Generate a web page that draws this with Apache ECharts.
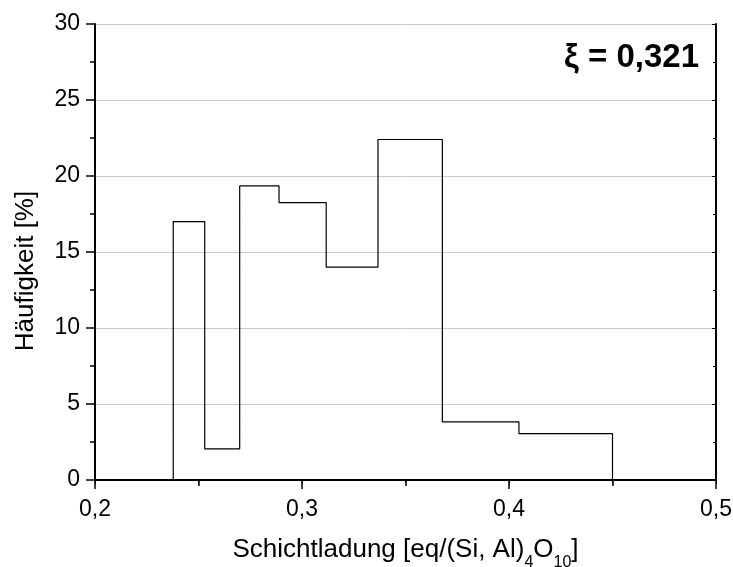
<!DOCTYPE html>
<html>
	<head>
		<meta charset="UTF-8">
		<title>Schichtladung</title>
		<style>
			html, body { margin: 0; padding: 0; background: #fff; }
			#main { width: 733px; height: 567px; }
		</style>
	</head>
	<body>
		<div id="main"></div>
		<script type="text/javascript" src="https://cdn.jsdelivr.net/npm/echarts@6/dist/echarts.min.js"></script>
		<script>
			// Klassengrenzen und Häufigkeiten
			var binEdges = [0.2198, 0.2378, 0.2530, 0.2699, 0.2889, 0.3117, 0.3367, 0.3678, 0.4048, 0.45];
			var frequency = [0, 17.0, 2.05, 19.35, 18.25, 14.0, 22.4, 3.82, 3.05];
			var xiText = 'ξ = 0,321';

			var chart = echarts.init(document.getElementById('main'));

			// Treppenlinie: jeder Punkt = linke Kante + Wert, letzter Punkt fällt auf 0
			var stepData = [];
			for (var i = 0; i < binEdges.length; i++) {
				stepData.push([binEdges[i], i < frequency.length ? frequency[i] : 0]);
			}

			var font = 'Liberation Sans, Arial, sans-serif';
			var comma = function (v) { return v.toFixed(1).replace('.', ','); };

			var option = {
				animation: false,
				grid: { left: 95, right: 17, top: 24, bottom: 87, outerBoundsMode: 'none' },
				xAxis: [{
					type: 'value', min: 0.2, max: 0.5, interval: 0.1,
					name: 'Schichtladung [eq/(Si, Al){sub|4}O{sub|10}]',
					nameLocation: 'middle', nameGap: 49,
					nameTextStyle: {
						fontFamily: font, fontSize: 26, color: '#000',
						rich: { sub: { fontFamily: font, fontSize: 16, color: '#000', padding: [26, 0, 0, 0] } }
					},
					axisLine: { lineStyle: { color: '#000', width: 2 } },
					axisTick: { length: 9, lineStyle: { color: '#000', width: 1.5 } },
					minorTick: { show: true, splitNumber: 2, length: 6, lineStyle: { color: '#000', width: 1.5 } },
					axisLabel: { margin: 18, fontFamily: font, fontSize: 23, color: '#000', formatter: comma },
					splitLine: { show: false }
				}, {
					type: 'value', position: 'top', min: 0.2, max: 0.5, interval: 0.1,
					axisLine: { lineStyle: { color: '#000', width: 2 } },
					axisTick: { inside: true, length: 4, lineStyle: { color: '#000' } },
					minorTick: { show: true, splitNumber: 2, length: 3, lineStyle: { color: '#000' } },
					axisLabel: { show: false },
					splitLine: { show: false }
				}],
				yAxis: [{
					type: 'value', min: 0, max: 30, interval: 5,
					axisLine: { show: true, lineStyle: { color: '#000', width: 2 } },
					axisTick: { show: true, length: 9, lineStyle: { color: '#000', width: 1.5 } },
					minorTick: { show: true, splitNumber: 2, length: 5, lineStyle: { color: '#000', width: 1.5 } },
					axisLabel: { margin: 15, fontFamily: font, fontSize: 23, color: '#000' },
					splitLine: { show: true, lineStyle: { color: '#c8c8c8', width: 1 } }
				}, {
					type: 'value', position: 'right', min: 0, max: 30, interval: 5,
					axisLine: { show: true, lineStyle: { color: '#000', width: 2 } },
					axisTick: { show: true, inside: true, length: 4, lineStyle: { color: '#000' } },
					minorTick: { show: true, splitNumber: 2, length: 3, lineStyle: { color: '#000' } },
					axisLabel: { show: false },
					splitLine: { show: false }
				}],
				graphic: [{
					type: 'text', x: 26, y: 271, rotation: Math.PI / 2,
					style: {
						text: 'Häufigkeit [%]', fill: '#000',
						font: '26px ' + font, textAlign: 'center', textVerticalAlign: 'middle'
					}
				}, {
					type: 'text', x: 699, y: 58,
					style: {
						text: xiText, fill: '#000',
						font: 'bold 33px ' + font, textAlign: 'right', textVerticalAlign: 'middle'
					}
				}],
				series: [{
					type: 'line',
					step: 'end',
					showSymbol: false,
					data: stepData,
					lineStyle: { color: '#000', width: 1.2 }
				}]
			};

			chart.setOption(option);
		</script>
	</body>
</html>
